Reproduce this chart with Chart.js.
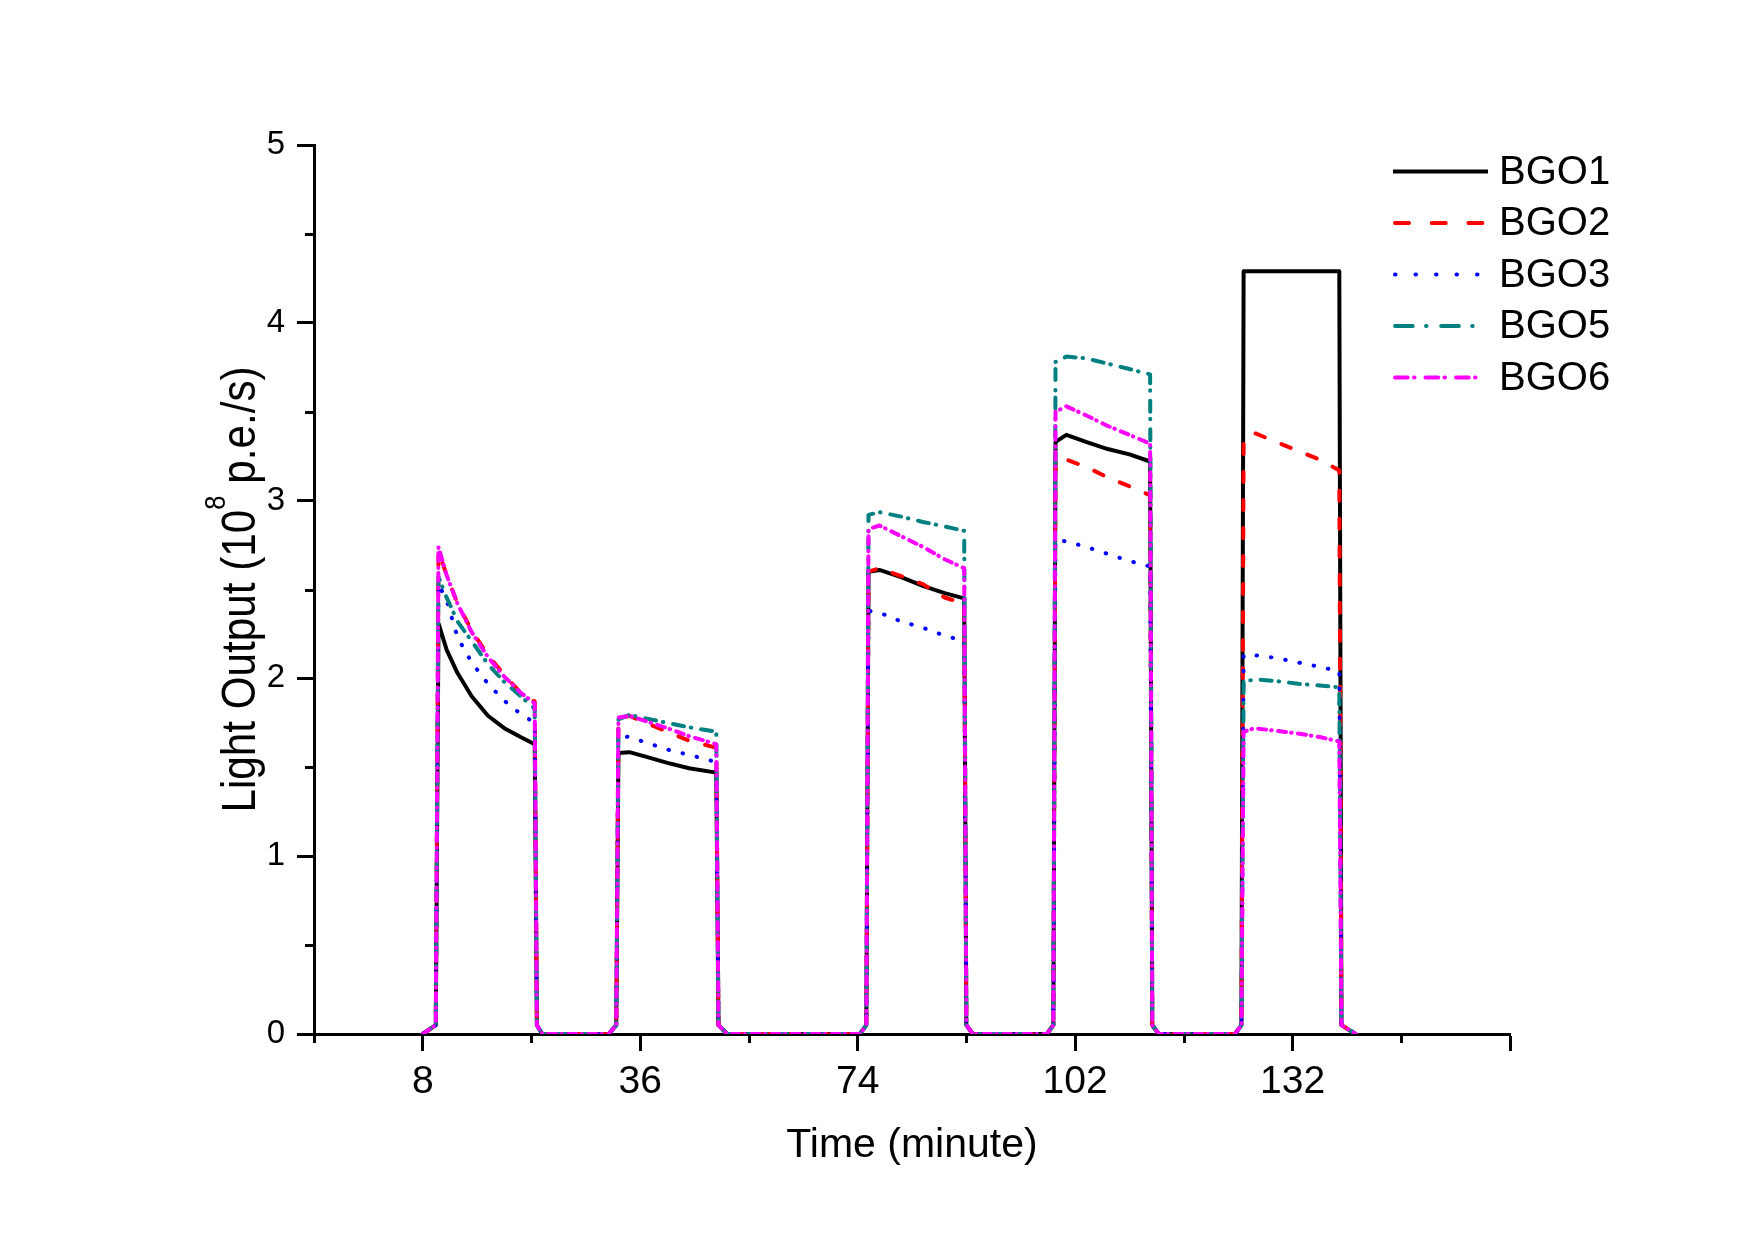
<!DOCTYPE html>
<html>
<head>
<meta charset="utf-8">
<title>Light Output</title>
<script src="https://cdn.jsdelivr.net/npm/chart.js@4.4.0/dist/chart.umd.min.js"></script>
<style>
  html, body { margin: 0; padding: 0; background: #ffffff; }
  canvas { display: block; }
</style>
</head>
<body>
<canvas id="myChart" width="1755" height="1242"></canvas>
<script>
// ----------- DATA ------------
// x is in axis units: the axis runs 0..11 and the labelled ticks sit on the odd units
const time_pos = [
  1.00, 1.12, 1.145, 1.22, 1.32, 1.45, 1.60, 1.75, 1.90, 2.03, 2.05, 2.10,
  2.71, 2.78, 2.80, 2.90, 3.05, 3.25, 3.45, 3.70, 3.72, 3.80,
  5.02, 5.08, 5.10, 5.20, 5.40, 5.60, 5.80, 5.98, 6.00, 6.06,
  6.74, 6.80, 6.82, 6.92, 7.10, 7.30, 7.50, 7.69, 7.71, 7.77,
  8.47, 8.53, 8.55, 8.65, 8.85, 9.05, 9.25, 9.43, 9.45, 9.58
];
const x_tick_pos = [1, 3, 5, 7, 9, 11];
const x_tick_labels = ['8', '36', '74', '102', '132', ''];
const x_minor_pos = [0, 2, 4, 6, 8, 10];
const y_minor_pos = [0.5, 1.5, 2.5, 3.5, 4.5];

const series_names = ['BGO1', 'BGO2', 'BGO3', 'BGO5', 'BGO6'];

// light output, 10^8 p.e./s
const bgo1 = [
  0, 0.05, 2.31, 2.16, 2.03, 1.90, 1.79, 1.72, 1.67, 1.63, 0.05, 0,
  0, 0.05, 1.58, 1.585, 1.56, 1.525, 1.495, 1.47, 0.05, 0,
  0, 0.05, 2.60, 2.61, 2.57, 2.52, 2.48, 2.45, 0.05, 0,
  0, 0.05, 3.33, 3.37, 3.33, 3.29, 3.26, 3.22, 0.05, 0,
  0, 0.05, 4.29, 4.29, 4.29, 4.29, 4.29, 4.29, 0.05, 0
];
const bgo2 = [
  0, 0.05, 2.72, 2.58, 2.42, 2.27, 2.13, 2.02, 1.92, 1.87, 0.05, 0,
  0, 0.05, 1.77, 1.79, 1.75, 1.70, 1.65, 1.61, 0.05, 0,
  0, 0.05, 2.60, 2.62, 2.575, 2.53, 2.455, 2.42, 0.05, 0,
  0, 0.05, 3.24, 3.23, 3.19, 3.13, 3.08, 3.03, 0.05, 0,
  0, 0.05, 3.34, 3.38, 3.33, 3.28, 3.23, 3.17, 0.05, 0
];
const bgo3 = [
  0, 0.05, 2.53, 2.44, 2.23, 2.09, 1.97, 1.875, 1.80, 1.75, 0.05, 0,
  0, 0.05, 1.68, 1.67, 1.64, 1.60, 1.57, 1.53, 0.05, 0,
  0, 0.05, 2.38, 2.37, 2.32, 2.285, 2.24, 2.21, 0.05, 0,
  0, 0.05, 2.78, 2.77, 2.74, 2.70, 2.66, 2.63, 0.05, 0,
  0, 0.05, 2.13, 2.13, 2.115, 2.09, 2.065, 2.04, 0.05, 0
];
const bgo5 = [
  0, 0.05, 2.57, 2.455, 2.32, 2.21, 2.08, 1.98, 1.90, 1.83, 0.05, 0,
  0, 0.05, 1.77, 1.795, 1.775, 1.75, 1.725, 1.70, 0.05, 0,
  0, 0.05, 2.92, 2.935, 2.91, 2.88, 2.855, 2.83, 0.05, 0,
  0, 0.05, 3.78, 3.81, 3.80, 3.77, 3.74, 3.71, 0.05, 0,
  0, 0.05, 1.98, 1.995, 1.985, 1.97, 1.96, 1.95, 0.05, 0
];
const bgo6 = [
  0, 0.05, 2.74, 2.58, 2.42, 2.26, 2.12, 2.01, 1.92, 1.86, 0.05, 0,
  0, 0.05, 1.78, 1.79, 1.76, 1.72, 1.675, 1.63, 0.05, 0,
  0, 0.05, 2.84, 2.86, 2.80, 2.74, 2.67, 2.62, 0.05, 0,
  0, 0.05, 3.50, 3.53, 3.48, 3.42, 3.37, 3.32, 0.05, 0,
  0, 0.05, 1.70, 1.72, 1.705, 1.69, 1.67, 1.645, 0.05, 0
];
const series_values = [bgo1, bgo2, bgo3, bgo5, bgo6];

// ----------- STYLE ------------
const FONT = '"Liberation Sans", Arial, Helvetica, sans-serif';
const line_styles = [
  { color: '#000000', dash: [],                 legendDash: [],                      cap: 'butt'  },
  { color: '#ff0000', dash: [10, 18],           legendDash: [14, 22.7],              cap: 'round' },
  { color: '#0000ff', dash: [0.5, 14],          legendDash: [0.5, 20],               cap: 'round' },
  { color: '#008080', dash: [11, 7, 0.5, 10],   legendDash: [17.7, 13.3, 0.5, 14.7], cap: 'round' },
  { color: '#ff00ff', dash: [8, 5, 0.5, 6.5],   legendDash: [12.7, 6.3, 0.5, 11],    cap: 'round' }
];

Chart.defaults.font.family = FONT;
Chart.defaults.color = '#000000';

// ----------- PLUGINS ------------
// short ticks between the labelled ones
const minor_ticks = {
  id: 'minorTicks',
  afterDraw(chart) {
    const { ctx, chartArea, scales } = chart;
    ctx.save();
    ctx.strokeStyle = '#000000';
    ctx.lineWidth = 3;
    ctx.beginPath();
    y_minor_pos.forEach((v) => {
      const py = Math.round(scales.y.getPixelForValue(v)) + 0.5;
      ctx.moveTo(chartArea.left - 9, py);
      ctx.lineTo(chartArea.left, py);
    });
    x_minor_pos.forEach((v) => {
      const px = Math.round(scales.x.getPixelForValue(v)) + 0.5;
      ctx.moveTo(px, chartArea.bottom);
      ctx.lineTo(px, chartArea.bottom + 9);
    });
    ctx.stroke();
    ctx.restore();
  }
};

// y title with a real superscript (slightly condensed like the original)
const y_title = {
  id: 'yTitle',
  afterDraw(chart) {
    const ctx = chart.ctx;
    const cy = (chart.chartArea.top + chart.chartArea.bottom) / 2;
    const squeeze = 0.88;
    const parts = [
      { text: 'Light Output (10', size: 48, rise: 0 },
      { text: '8', size: 29, rise: 30 },
      { text: ' p.e./s)', size: 48, rise: 0 }
    ];
    let total = 0;
    parts.forEach((p) => {
      ctx.font = p.size + 'px ' + FONT;
      p.w = ctx.measureText(p.text).width;
      total += p.w;
    });
    ctx.save();
    ctx.translate(255, cy);
    ctx.rotate(-Math.PI / 2);
    ctx.scale(squeeze, 1);
    ctx.fillStyle = '#000000';
    ctx.textBaseline = 'alphabetic';
    let x = -total / 2;
    parts.forEach((p) => {
      ctx.font = p.size + 'px ' + FONT;
      ctx.fillText(p.text, x, -p.rise);
      x += p.w;
    });
    ctx.restore();
  }
};

// legend inside the plot, top right
const bgo_legend = {
  id: 'bgoLegend',
  afterDraw(chart) {
    const ctx = chart.ctx;
    ctx.save();
    ctx.font = '40px ' + FONT;
    ctx.textBaseline = 'middle';
    series_names.forEach((name, i) => {
      const st = line_styles[i];
      const y = 171.5 + i * 51.5;
      const pad = st.cap === 'round' ? 2 : 0;
      ctx.strokeStyle = st.color;
      ctx.lineWidth = 4;
      ctx.lineCap = st.cap;
      ctx.setLineDash(st.legendDash);
      ctx.beginPath();
      ctx.moveTo(1393 + pad, y);
      ctx.lineTo(1488 - pad, y);
      ctx.stroke();
      ctx.setLineDash([]);
      ctx.fillStyle = '#000000';
      ctx.fillText(name, 1499, y + 1);
    });
    ctx.restore();
  }
};

// ----------- CHART ------------
function build_datasets() {
  return series_names.map((name, i) => ({
    label: name,
    data: time_pos.map((t, k) => ({ x: t, y: series_values[i][k] })),
    borderColor: line_styles[i].color,
    backgroundColor: line_styles[i].color,
    borderWidth: 4,
    borderDash: line_styles[i].dash,
    borderCapStyle: line_styles[i].cap,
    borderJoinStyle: 'round',
    tension: 0,
    pointRadius: 0,
    fill: false,
    order: series_names.length - i
  }));
}

function chart_layout() {
  new Chart(document.getElementById('myChart'), {
    type: 'line',
    data: { datasets: build_datasets() },
    options: {
      responsive: false,
      animation: false,
      events: [],
      layout: { padding: { top: 145, right: 245, left: 0, bottom: 0 } },
      plugins: {
        legend: { display: false },
        tooltip: { enabled: false }
      },
      scales: {
        x: {
          type: 'linear',
          min: 0,
          max: 11,
          afterBuildTicks: (scale) => {
            scale.ticks = x_tick_pos.map((v) => ({ value: v }));
          },
          afterFit: (scale) => { scale.height = 208; },
          border: { display: true, color: '#000000', width: 3 },
          grid: { drawOnChartArea: false, drawTicks: true, tickLength: 17, tickWidth: 3, tickColor: '#000000' },
          ticks: {
            autoSkip: false,
            maxRotation: 0,
            padding: 8,
            font: { size: 39 },
            callback: (value) => {
              const k = x_tick_pos.indexOf(value);
              return k >= 0 ? x_tick_labels[k] : '';
            }
          },
          title: {
            display: true,
            text: 'Time (minute)',
            font: { size: 41 },
            padding: { top: 0, bottom: 72 }
          }
        },
        y: {
          type: 'linear',
          min: 0,
          max: 5,
          afterFit: (scale) => { scale.width = 314; },
          border: { display: true, color: '#000000', width: 3 },
          grid: { drawOnChartArea: false, drawTicks: true, tickLength: 17, tickWidth: 3, tickColor: '#000000' },
          ticks: { stepSize: 1, padding: 12, font: { size: 33 } }
        }
      }
    },
    plugins: [minor_ticks, y_title, bgo_legend]
  });
}

document.addEventListener('DOMContentLoaded', function () {
  chart_layout();
});
</script>
</body>
</html>
